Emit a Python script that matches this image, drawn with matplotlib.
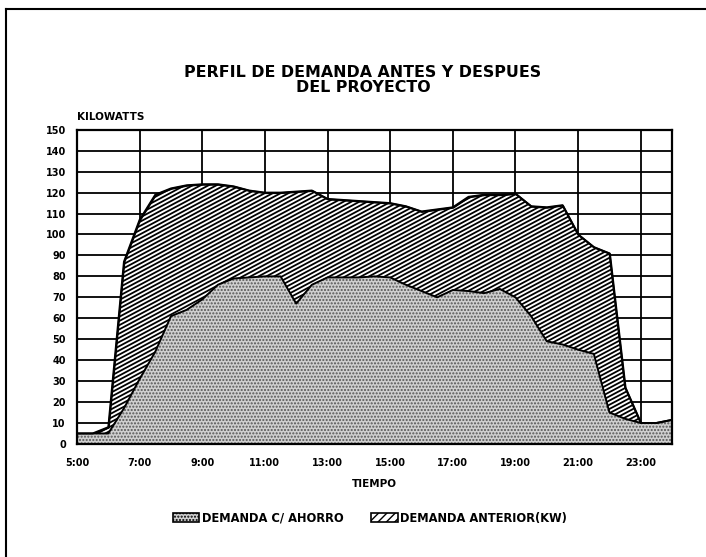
import numpy as np
import matplotlib
matplotlib.use("Agg")
import matplotlib.pyplot as plt
from matplotlib.patches import Patch
from matplotlib.lines import Line2D
from matplotlib.collections import LineCollection

plt.rcParams['font.family'] = ['DejaVu Sans']
plt.rcParams['font.weight'] = 'bold'
plt.rcParams['hatch.linewidth'] = 1.0

# half-hour readings, 5:00 to 24:00
horas = np.arange(5.0, 24.01, 0.5)

demanda_anterior = [5, 5, 8, 87, 107, 119, 122, 123.5, 124, 124, 123, 121,
                    120, 120, 120.5, 121, 117, 116.5, 116, 115.5, 115, 113.5,
                    111, 112, 113, 118, 119, 119, 119.5, 113.5, 113, 114,
                    100, 94, 91, 27, 10, 10, 11.5]

demanda_ahorro = [5, 5, 5, 17, 31, 44, 61, 64, 69, 76, 79, 79.5,
                  80, 80, 67, 76, 79.5, 79.5, 79.5, 80, 79.5, 76,
                  73, 70, 73.5, 73, 72, 74, 70, 61, 49, 47.5,
                  45, 43, 15, 12, 10, 10, 11.5]

xticks = [5, 7, 9, 11, 13, 15, 17, 19, 21, 23]
xtick_labels = ['5:00', '7:00', '9:00', '11:00', '13:00', '15:00',
                '17:00', '19:00', '21:00', '23:00']
yticks = list(range(0, 151, 10))

fig = plt.figure(figsize=(7.06, 5.57), dpi=100)
ax = fig.add_axes([0.109, 0.203, 0.843, 0.564])

# grid under the areas
for yv in yticks:
    ax.axhline(yv, color='black', lw=1.3, zorder=0)
for xv in xticks[1:]:
    ax.axvline(xv, color='black', lw=1.3, zorder=0)

anterior = ax.fill_between(horas, 0, demanda_anterior, facecolor='white',
                           edgecolor='black', lw=1.4, zorder=2)

# shallow diagonal hatching, clipped to the "anterior" area
w_px = 0.843 * 706
h_px = 0.564 * 557
pend = np.tan(np.radians(28)) * w_px / h_px
paso = 4.2 / h_px
segs = [[(0, c), (1, c + pend)] for c in np.arange(-pend - 0.05, 1.05, paso)]
rayas = LineCollection(segs, colors='black', linewidths=1.3,
                       transform=ax.transAxes, zorder=2.5)
rayas.set_clip_path(anterior.get_paths()[0], ax.transData)
ax.add_collection(rayas)

ax.fill_between(horas, 0, demanda_ahorro, facecolor='#d0d0d0',
                edgecolor='#555555', hatch='.....', lw=0, zorder=3)
ax.plot(horas, demanda_ahorro, color='black', lw=1.4, zorder=4)
ax.plot(horas, demanda_anterior, color='black', lw=1.4, zorder=4)

ax.set_xlim(5, 24)
ax.set_ylim(0, 150)
ax.set_xticks(xticks)
ax.set_xticklabels(xtick_labels)
ax.set_yticks(yticks)
ax.tick_params(axis='x', length=0, labelsize=7, pad=10)
ax.tick_params(axis='y', length=0, labelsize=7, pad=8)
for s in ax.spines.values():
    s.set_linewidth(1.6)
    s.set_zorder(5)

ax.set_xlabel('TIEMPO', fontsize=7.5, fontweight='bold', labelpad=8)
ax.text(0.0, 1.025, 'KILOWATTS', transform=ax.transAxes, fontsize=7.5,
        fontweight='bold', ha='left', va='bottom')

fig.text(0.514, 0.856, 'PERFIL DE DEMANDA ANTES Y DESPUES\nDEL PROYECTO',
         ha='center', va='center', fontsize=11.4, fontweight='bold',
         linespacing=1.0)

handles = [Patch(facecolor='#d0d0d0', edgecolor='black', hatch='.....', lw=1.2),
           Patch(facecolor='white', edgecolor='black', hatch='////', lw=1.2)]
fig.legend(handles, ['DEMANDA C/ AHORRO', 'DEMANDA ANTERIOR(KW)'],
           loc='center', bbox_to_anchor=(0.524, 0.07), ncol=2, frameon=False,
           fontsize=8.3, handlelength=2.3, handleheight=0.9, handletextpad=0.2,
           columnspacing=2.4)

# page frame, left and top
fig.add_artist(Line2D([0.0085, 0.0085], [0, 0.984], color='black', lw=1.5,
                      transform=fig.transFigure))
fig.add_artist(Line2D([0.0085, 1.0], [0.984, 0.984], color='black', lw=1.5,
                      transform=fig.transFigure))

fig.savefig('out.png', dpi=100)
